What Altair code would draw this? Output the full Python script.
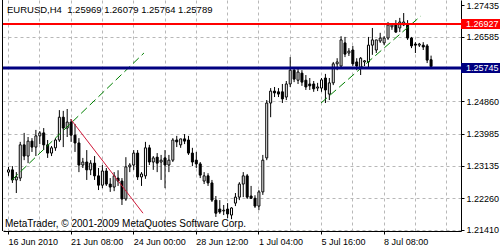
import json
import altair as alt
import pandas as pd

# ---- data (EURUSD H4 candles, oldest first) ----
open_ = [1.2296,1.2302,1.2275,1.2280,1.2369,1.2339,1.2379,1.2363,1.2393,1.2401,
         1.2369,1.2347,1.2361,1.2382,1.2443,1.2414,1.2430,1.2395,1.2374,1.2315,
         1.2323,1.2302,1.2320,1.2286,1.2261,1.2299,1.2264,1.2256,1.2280,1.2272,
         1.2224,1.2310,1.2315,1.2347,1.2283,1.2286,1.2361,1.2323,1.2336,1.2323,
         1.2334,1.2315,1.2328,1.2382,1.2369,1.2385,1.2382,1.2347,1.2328,1.2318,
         1.2272,1.2286,1.2267,1.2221,1.2197,1.2192,1.2197,1.2181,1.2213,1.2229,
         1.2264,1.2286,1.2232,1.2226,1.2205,1.2243,1.2334,1.2481,1.2513,1.2511,
         1.2511,1.2497,1.2532,1.2569,1.2542,1.2561,1.2542,1.2532,1.2532,1.2521,
         1.2521,1.2548,1.2505,1.2535,1.2586,1.2580,1.2642,1.2615,1.2623,1.2591,
         1.2577,1.2591,1.2591,1.2636,1.2623,1.2647,1.2642,1.2655,1.2685,1.2693,
         1.2682,1.2690,1.2693,1.2655,1.2639,1.2636,1.2636,1.2634,1.25969]
high = [1.2310,1.2312,1.2296,1.2377,1.2401,1.2390,1.2387,1.2409,1.2406,1.2414,
        1.2382,1.2366,1.2387,1.2462,1.2460,1.2465,1.2438,1.2425,1.2387,1.2334,
        1.2355,1.2328,1.2339,1.2307,1.2315,1.2307,1.2280,1.2296,1.2301,1.2280,
        1.2336,1.2320,1.2355,1.2355,1.2296,1.2377,1.2369,1.2339,1.2347,1.2342,
        1.2355,1.2342,1.2387,1.2393,1.2385,1.2398,1.2393,1.2361,1.2350,1.2323,
        1.2296,1.2293,1.2275,1.2232,1.2221,1.2208,1.2213,1.2202,1.2240,1.2269,
        1.2296,1.2291,1.2259,1.2234,1.2248,1.2342,1.2489,1.2521,1.2524,1.2521,
        1.2532,1.2540,1.2604,1.2577,1.2575,1.2569,1.2556,1.2548,1.2540,1.2535,
        1.2548,1.2559,1.2548,1.2591,1.2601,1.2660,1.2658,1.2628,1.2634,1.2601,
        1.2604,1.2596,1.2658,1.2682,1.2650,1.2669,1.2660,1.2698,1.2695,1.2703,
        1.2709,1.2722,1.2703,1.2658,1.2644,1.2642,1.2644,1.2639,1.26079]
low = [1.2286,1.2267,1.2240,1.2272,1.2328,1.2320,1.2350,1.2339,1.2371,1.2355,
       1.2334,1.2339,1.2353,1.2377,1.2363,1.2390,1.2377,1.2350,1.2296,1.2307,
       1.2275,1.2288,1.2275,1.2248,1.2253,1.2259,1.2243,1.2245,1.2259,1.2208,
       1.2219,1.2296,1.2302,1.2275,1.2259,1.2278,1.2315,1.2302,1.2296,1.2275,
       1.2253,1.2296,1.2323,1.2363,1.2361,1.2371,1.2342,1.2312,1.2307,1.2280,
       1.2264,1.2259,1.2216,1.2176,1.2184,1.2181,1.2173,1.2170,1.2205,1.2221,
       1.2229,1.2224,1.2224,1.2200,1.2194,1.2235,1.2328,1.2443,1.2497,1.2497,
       1.2481,1.2489,1.2524,1.2537,1.2532,1.2527,1.2516,1.2516,1.2511,1.2513,
       1.2511,1.2481,1.2489,1.2529,1.2569,1.2575,1.2604,1.2607,1.2580,1.2569,
       1.2556,1.2580,1.2577,1.2610,1.2615,1.2642,1.2636,1.2650,1.2677,1.2669,
       1.2671,1.2687,1.2650,1.2628,1.2615,1.2631,1.2623,1.2588,1.25764]
close = [1.2302,1.2275,1.2283,1.2369,1.2339,1.2379,1.2363,1.2393,1.2401,1.2369,
         1.2347,1.2361,1.2382,1.2443,1.2414,1.2430,1.2395,1.2374,1.2315,1.2323,
         1.2302,1.2320,1.2286,1.2261,1.2299,1.2264,1.2256,1.2286,1.2272,1.2224,
         1.2310,1.2315,1.2347,1.2283,1.2291,1.2361,1.2323,1.2334,1.2320,1.2328,
         1.2315,1.2328,1.2382,1.2377,1.2385,1.2379,1.2347,1.2323,1.2318,1.2288,
         1.2286,1.2267,1.2221,1.2186,1.2189,1.2194,1.2184,1.2200,1.2229,1.2264,
         1.2286,1.2229,1.2226,1.2205,1.2243,1.2328,1.2481,1.2513,1.2508,1.2505,
         1.2492,1.2532,1.2569,1.2545,1.2564,1.2537,1.2524,1.2527,1.2519,1.2524,
         1.2543,1.2516,1.2535,1.2586,1.2591,1.2650,1.2612,1.2620,1.2586,1.2580,
         1.2601,1.2594,1.2636,1.2650,1.2650,1.2655,1.2655,1.2690,1.2690,1.2671,
         1.2698,1.2698,1.2655,1.2634,1.2636,1.2639,1.2631,1.2596,1.25789]

x_tick_labels = ["16 Jun 2010", "21 Jun 08:00", "24 Jun 00:00", "28 Jun 12:00",
                 "1 Jul 04:00", "5 Jul 16:00", "8 Jul 08:00"]
y_tick_values = [1.27435, 1.26585, 1.24860, 1.23985, 1.23135, 1.22260, 1.21410]

level_prices = [1.26927, 1.25745]

# trend lines: (bar index, price) endpoints
green_line_id = ["a", "a", "b", "b"]
green_line_i = [1.0, 34.75, 80.0, 105.5]
green_line_p = [1.2275, 1.2615, 1.2481, 1.2714]
red_line_i = [16.0, 34.5]
red_line_p = [1.2438, 1.2186]

symbol = "EURUSD,H4"
footer = "MetaTrader, \u00a9 2001-2009 MetaQuotes Software Corp."

# ---- styles ----
FONT = "Liberation Sans"
level_colors = ["#ff0000", "#000080"]
level_widths = [2, 3]
GRID = "#b8b8b8"

n = len(close)
df = pd.DataFrame({"i": list(range(n)), "open": open_, "high": high,
                   "low": low, "close": close})

xs = alt.Scale(domain=[0, 114.5], nice=False, zero=False)
ys = alt.Scale(domain=[1.21383, 1.27569], nice=False, zero=False)

labels_js = json.dumps(x_tick_labels)
x_axis = alt.Axis(
    values=list(range(0, 113, 8)),
    labelExpr=f"(datum.value % 16 == 0 && datum.value < 112) ? {labels_js}[datum.value / 16] : ''",
    grid=True, gridDash=[3, 3], gridColor=GRID,
    tickOpacity={"condition": {"test": "datum.value % 16 != 0 || datum.value >= 112", "value": 0}, "value": 1},
    tickSize=3, tickColor="black", domainColor="black",
    labelAlign="left", labelBaseline="top", labelPadding=3,
    labelFont=FONT, labelFontSize=9, labelColor="black",
    labelOverlap=False, labelBound=False, labelFlush=False, title=None,
)
y_axis = alt.Axis(
    orient="right", values=y_tick_values, format=".5f",
    grid=True, gridDash=[3, 3], gridColor=GRID,
    gridOpacity={"condition": {"test": "datum.value > 1.274", "value": 0}, "value": 1},
    tickSize=3, tickColor="black", domainColor="black",
    labelPadding=2, labelFont=FONT, labelFontSize=9, labelColor="black",
    labelOverlap=False, labelBound=False, labelFlush=False, title=None,
)


def X(field):
    return alt.X(field, scale=xs, axis=x_axis, title=None)


def Y(field):
    return alt.Y(field, scale=ys, axis=y_axis, title=None)


base = alt.Chart(df)
wicks = base.mark_rule(color="black", strokeWidth=1, xOffset=0.5).encode(
    x=X("i:Q"), y=Y("low:Q"), y2="high:Q",
)
bodies = base.mark_bar(width=2, orient="vertical", stroke="black",
                       strokeWidth=1, xOffset=0.5).encode(
    x=X("i:Q"), y=Y("open:Q"), y2="close:Q",
    fill=alt.condition("datum.close >= datum.open", alt.value("white"), alt.value("black")),
)

left_border = alt.Chart(pd.DataFrame({"k": [0]})).mark_rule(color="black", strokeWidth=1).encode(
    x=alt.value(-0.5), y=alt.value(0), y2=alt.value(231))

green = alt.Chart(pd.DataFrame({"id": green_line_id, "i": green_line_i, "p": green_line_p})).mark_line(
    color="#008000", strokeWidth=1, strokeDash=[8, 4]).encode(
    x=X("i:Q"), y=Y("p:Q"), detail="id:N",
)
red = alt.Chart(pd.DataFrame({"i": red_line_i, "p": red_line_p})).mark_line(
    color="#d01838", strokeWidth=1).encode(
    x=X("i:Q"), y=Y("p:Q"),
)

level_layers = []
for p, c, w in zip(level_prices, level_colors, level_widths):
    ldf = pd.DataFrame({"p": [p], "t": [f"{p:.5f}"]})
    line = alt.Chart(ldf).mark_rule(color=c, strokeWidth=w).encode(y=Y("p:Q"))
    box = alt.Chart(ldf).mark_rule(color=c, strokeWidth=10, strokeCap="butt").encode(
        x=alt.value(458), x2=alt.value(497), y=Y("p:Q"))
    txt = alt.Chart(ldf).mark_text(align="left", baseline="middle", color="white",
                                   font=FONT, fontSize=9).encode(
        x=alt.value(463), y=Y("p:Q"), text="t:N")
    level_layers += [line, box, txt]

header_text = f"{symbol}\u00a0 {open_[-1]:.5f} {high[-1]:.5f} {low[-1]:.5f} {close[-1]:.5f}"
header = alt.Chart(pd.DataFrame({"t": [header_text]})).mark_text(
    align="left", baseline="middle", font=FONT, fontSize=9.5, color="black").encode(
    text="t:N", x=alt.value(4), y=alt.value(10))
foot = alt.Chart(pd.DataFrame({"t": [footer]})).mark_text(
    align="left", baseline="middle", font=FONT, fontSize=10, color="black").encode(
    text="t:N", x=alt.value(2), y=alt.value(224))

chart = alt.layer(
    wicks, bodies, left_border, green, red, *level_layers, header, foot
).properties(
    width=458, height=231,
    autosize=alt.AutoSizeParams(type="none"),
    padding={"left": 3, "top": 0, "right": 39, "bottom": 19},
    background="white",
).configure_view(stroke=None)

chart.save("out.html", embed_options={"renderer": "svg", "actions": False})
